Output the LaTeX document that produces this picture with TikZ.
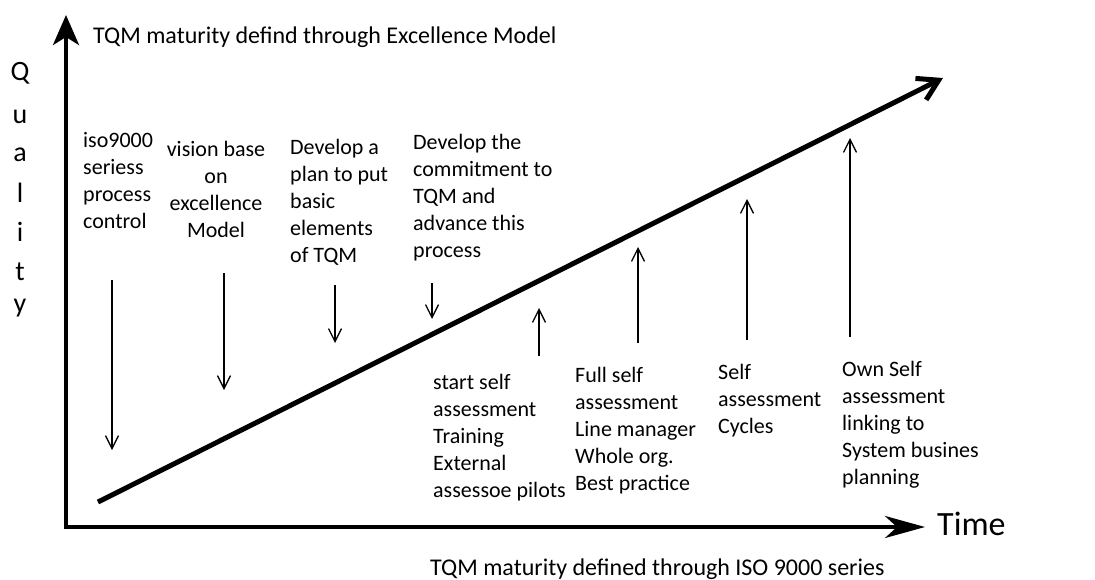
\documentclass[tikz,border=0pt]{standalone}
\usepackage{fontspec}
\setmainfont{Carlito}
\usetikzlibrary{arrows.meta}

\begin{document}
\begin{tikzpicture}[
    x=1pt, y=-1pt,
    every node/.style={font=\fontsize{22}{27}\selectfont, inner sep=0pt},
    note/.style={align=left, anchor=north west},
    caption/.style={anchor=base west, font=\fontsize{24}{27}\selectfont},
    letter/.style={font=\fontsize{28}{30}\selectfont},
    axis/.style={line width=4pt},
    trend/.style={line width=5pt, -{Straight Barb[length=20pt,width=24pt]}},
    pointer/.style={line width=1.3pt, -{Straight Barb[length=13pt,width=13pt]}}
]
\useasboundingbox (0,0) rectangle (1095,579);

% axes
\coordinate (origin) at (66,527);
\coordinate (ytop) at (66,15);
\coordinate (xend) at (925,527);
\draw[axis, -{Stealth[length=30pt,width=26pt,inset=8pt]}] (66,529) -- (ytop);
\draw[axis, -{Stealth[length=40pt,width=22pt,inset=12pt]}] (64,527) -- (xend);

\foreach \q/\y in {Q/73,u/117,a/155,l/193,i/232,t/272,y/308}
    \node[letter] (q-\q) at (20,\y) {\q};

\node[caption] (excellence) at (93,43) {TQM maturity defind through Excellence Model};
\node[caption] (iso9000) at (430,575) {TQM maturity defined through ISO 9000 series};
\node[anchor=base west, font=\fontsize{34}{36}\selectfont] (time) at (937,535) {Time};

% rising maturity line
\coordinate (low) at (98,502);
\coordinate (high) at (943,78);
\draw[trend] (low) -- (high);

% stages above the line
\node[note] (iso) at (83,132) {iso9000\\seriess\\process\\control};
\node[note, align=center, anchor=north] (vision) at (216,141) {vision base\\on\\excellence\\Model};
\node[note] (plan) at (290,139) {Develop a\\plan to put\\basic\\elements\\of TQM};
\node[note] (commit) at (413,134) {Develop the\\commitment to\\TQM and\\advance this\\process};

% stages below the line
\node[note] (start) at (433,374) {start self\\assessment\\Training\\External\\assessoe pilots};
\node[note] (full) at (575,367) {Full self\\assessment\\Line manager\\Whole org.\\Best practice};
\node[note] (cycles) at (718,364) {Self\\assessment\\Cycles};
\node[note] (own) at (842,361) {Own Self\\assessment\\linking to\\System busines\\planning};

\foreach \n/\x/\a/\b in {iso/112/280/450, vision/224/273/390, plan/335/285/343,
        commit/432/283/319, start/539/356/308, full/638/343/247,
        cycles/747/340/199, own/850/337/138} {
    \coordinate (\n-tail) at (\x,\a);
    \coordinate (\n-head) at (\x,\b);
    \draw[pointer] (\n-tail) -- (\n-head);
}

\end{tikzpicture}
\end{document}
